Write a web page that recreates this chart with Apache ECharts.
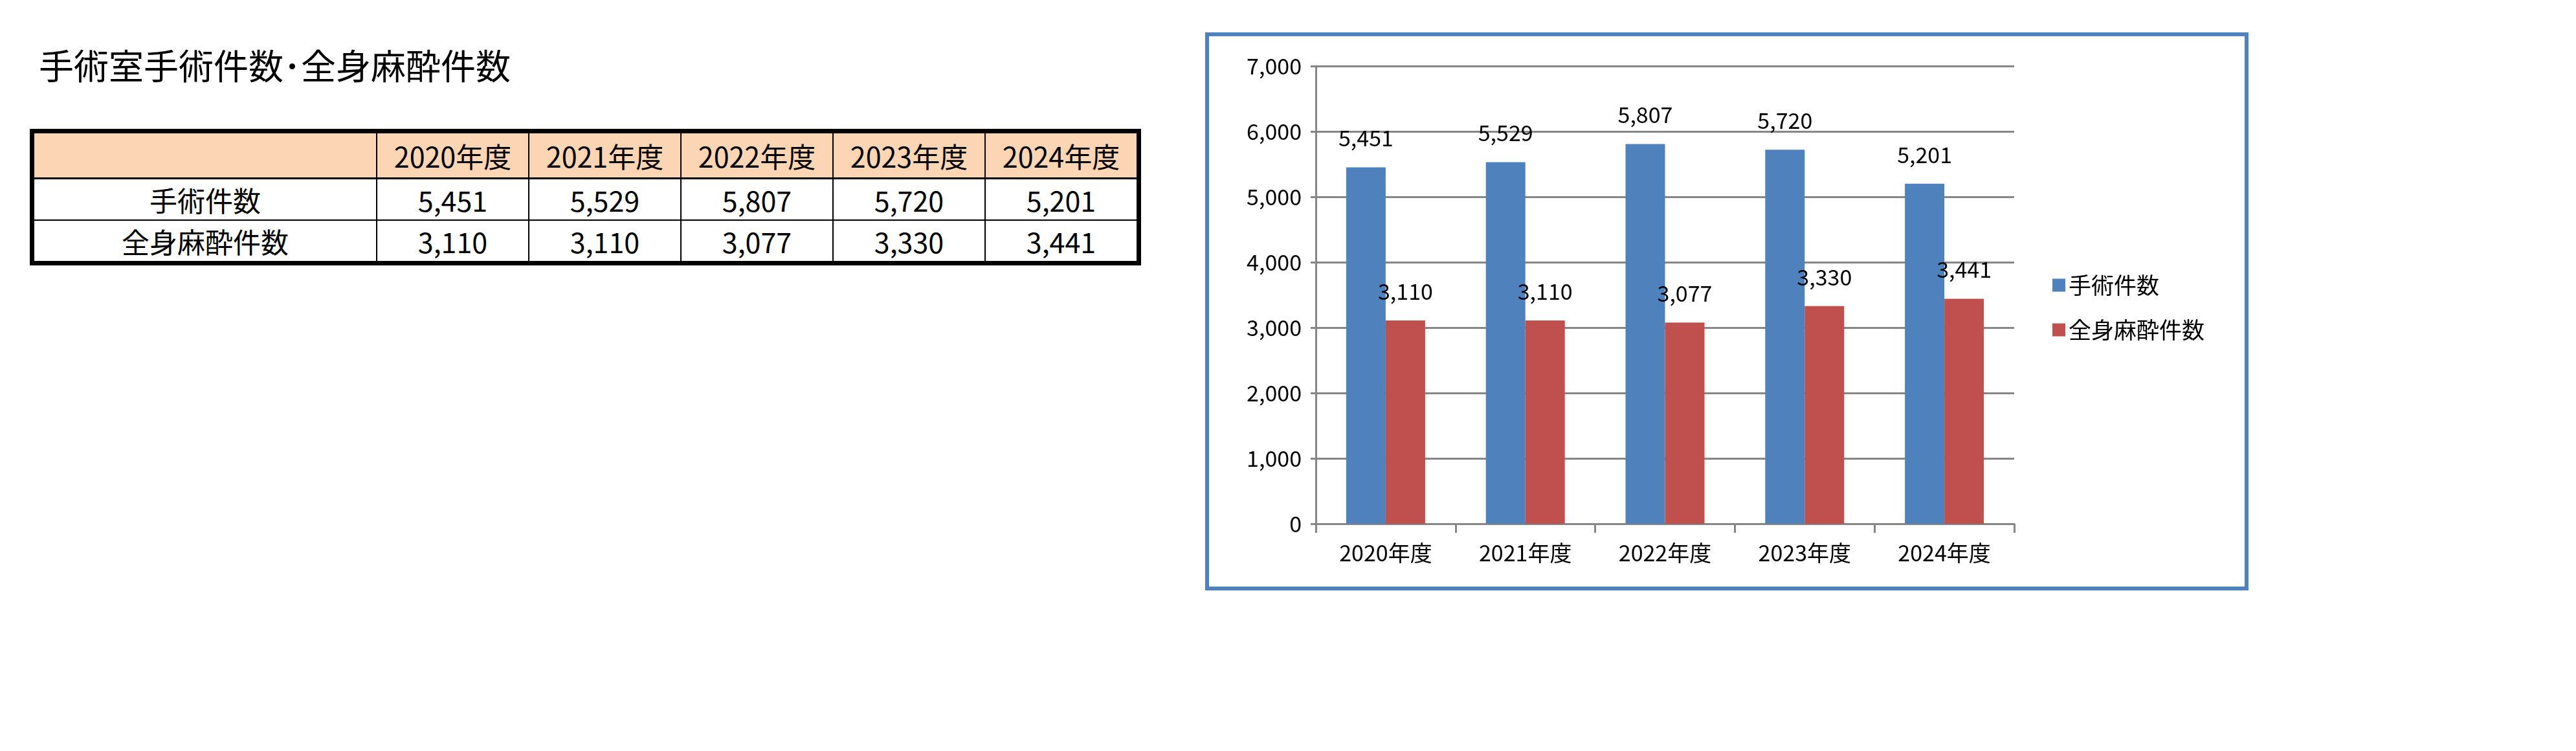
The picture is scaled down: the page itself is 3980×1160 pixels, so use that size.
<!DOCTYPE html>
<html>
<head>
<meta charset="utf-8">
<script src="https://cdn.jsdelivr.net/npm/echarts@6/dist/echarts.min.js"></script>
<style>
  body { margin: 0; width: 3980px; height: 1160px; background: #fff; position: relative; font-family: "Noto Sans CJK JP", sans-serif; }
  #title { position: absolute; left: 60px; top: 68px; font-size: 54px; line-height: 64px; color: #000; }
  #tbl { position: absolute; left: 46px; top: 199px; border-collapse: collapse; border: 7px solid #000; font-size: 43px; }
  #tbl td { border: 2px solid #000; text-align: center; padding: 0; height: 52px; }
  #tbl tr:first-child td { background: #fcd5b4; height: 68px; border-bottom: 3px solid #000; }
  #tbl td.h { width: 528px; }
  #tbl td.c { width: 233px; }
  #frame { position: absolute; left: 1862px; top: 50px; width: 1600px; height: 850px; border: 6px solid #4f81bd; }
  #chart { position: absolute; left: 0; top: 0; width: 1600px; height: 850px; }
</style>
</head>
<body>
<div id="title">手術室手術件数･全身麻酔件数</div>
<table id="tbl"></table>
<div id="frame"><div id="chart"></div></div>
<script>
const categories = ['2020年度', '2021年度', '2022年度', '2023年度', '2024年度'];
const surgery = [5451, 5529, 5807, 5720, 5201];
const anesthesia = [3110, 3110, 3077, 3330, 3441];
const seriesNames = ['手術件数', '全身麻酔件数'];

const fmt = v => v.toLocaleString('en-US');

// table
let html = '<tr><td class="h"></td>' + categories.map(c => '<td class="c">' + c + '</td>').join('') + '</tr>';
html += '<tr><td class="h">' + seriesNames[0] + '</td>' + surgery.map(v => '<td>' + fmt(v) + '</td>').join('') + '</tr>';
html += '<tr><td class="h">' + seriesNames[1] + '</td>' + anesthesia.map(v => '<td>' + fmt(v) + '</td>').join('') + '</tr>';
document.getElementById('tbl').innerHTML = html;

const chart = echarts.init(document.getElementById('chart'));
const font = '"Noto Sans CJK JP", sans-serif';
chart.setOption({
  animation: false,
  textStyle: { fontFamily: font },
  grid: { left: 165, right: 356, top: 46, bottom: 97 },
  legend: {
    orient: 'vertical', left: 1298, top: 362, itemGap: 34,
    icon: 'rect', itemWidth: 20, itemHeight: 20,
    textStyle: { fontSize: 35, color: '#000', fontFamily: font },
    data: seriesNames
  },
  xAxis: {
    type: 'category', data: categories,
    axisLine: { lineStyle: { color: '#868686', width: 3 } },
    axisTick: { show: true, length: 14, lineStyle: { color: '#868686', width: 3 } },
    axisLabel: { fontSize: 34, color: '#000', margin: 28 }
  },
  yAxis: {
    type: 'value', min: 0, max: 7000, interval: 1000,
    axisLine: { show: true, lineStyle: { color: '#868686', width: 3 } },
    axisTick: { show: true, length: 8, lineStyle: { color: '#868686', width: 3 } },
    axisLabel: { fontSize: 34, color: '#000', margin: 22, formatter: v => fmt(v) },
    splitLine: { lineStyle: { color: '#868686', width: 3 } }
  },
  series: [
    {
      name: seriesNames[0], type: 'bar', data: surgery, barWidth: 61, barGap: '0%',
      itemStyle: { color: '#4f81bd' },
      label: { show: true, position: 'top', distance: 28, fontSize: 34, color: '#000', formatter: p => fmt(p.value) }
    },
    {
      name: seriesNames[1], type: 'bar', data: anesthesia, barWidth: 61,
      itemStyle: { color: '#c0504d' },
      label: { show: true, position: 'top', distance: 28, fontSize: 34, color: '#000', formatter: p => fmt(p.value) }
    }
  ]
});
</script>
</body>
</html>
